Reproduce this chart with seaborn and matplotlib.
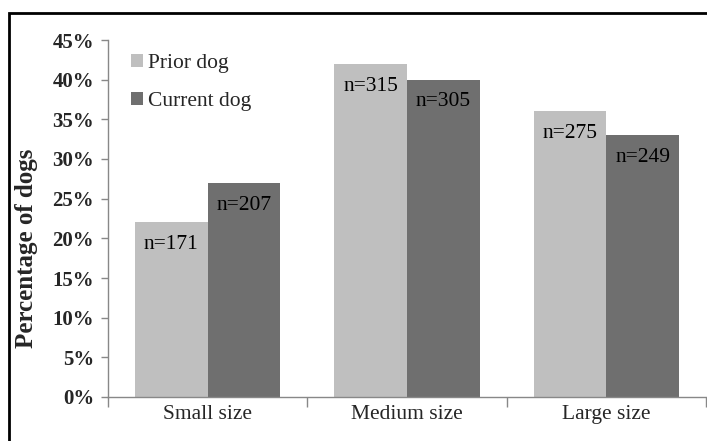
import numpy as np
import pandas as pd
import matplotlib
matplotlib.use("Agg")
import matplotlib.pyplot as plt
import seaborn as sns
from matplotlib.patches import Rectangle

#data
sizes=["Small size","Medium size","Large size"]
groups=["Prior dog","Current dog"]
prior_pct=[22,42,36]
current_pct=[27,40,33]
prior_n=[171,315,275]
current_n=[207,305,249]
yticks=[0,5,10,15,20,25,30,35,40,45]

df=pd.DataFrame({
    "size":sizes*2,
    "group":[groups[0]]*3+[groups[1]]*3,
    "pct":prior_pct+current_pct,
    "n":prior_n+current_n,
})

sns.set_style("white")
plt.rcParams['font.family']=['Liberation Serif','DejaVu Serif']

fig=plt.figure(figsize=(7.07,4.41),dpi=100)
ax=fig.add_axes([108/707,1-397/441,598/707,357/441])

sns.barplot(data=df,x="size",y="pct",hue="group",order=sizes,hue_order=groups,
            palette=["#bfbfbf","#6f6f6f"],width=0.73,gap=0,ax=ax,
            edgecolor="none",linewidth=0,saturation=1)

#n labels inside the top of each bar
for cont,ns in zip(ax.containers,[prior_n,current_n]):
    for bar,n in zip(cont,ns):
        ax.text(bar.get_x()+bar.get_width()/2,bar.get_height()-2.8,f"n={n}",
                ha="center",va="center",fontsize=15.5,color="black")

ax.set_ylim(0,45)
ax.set_xlim(-0.5,2.5)
ax.set_yticks(yticks)
ax.set_yticklabels([f"{t}%" for t in yticks],fontsize=15,fontweight="bold")
ax.set_xticks([0,1,2])
ax.set_xticklabels(sizes,fontsize=15.5)
ax.tick_params(axis="x",length=0,pad=6)
ax.tick_params(axis="y",length=5,width=1,color="#888888",direction="out",pad=5,left=True)
#category boundary ticks on x axis
ax.set_xticks([-0.5,0.5,1.5,2.5],minor=True)
ax.tick_params(axis="x",which="minor",length=7,width=1,color="#888888",bottom=True)
ax.set_xlabel("")
ax.set_ylabel("")
sns.despine(ax=ax)
for s in ["left","bottom"]:
    ax.spines[s].set_color("#888888")
    ax.spines[s].set_linewidth(1)

fig.text(27/707,1-248/441,"Percentage of dogs",rotation=90,ha="center",va="center",
         fontsize=18,fontweight="bold")

leg=ax.legend(loc="upper left",bbox_to_anchor=(0.038,0.96),frameon=False,fontsize=15.5,
              handlelength=0.55,handleheight=0.55,handletextpad=0.25,labelspacing=0.85,
              borderpad=0,borderaxespad=0)

#outer frame around the figure
fig.patches.append(Rectangle((9/707,-0.1),1.2,1-13/441+0.1,transform=fig.transFigure,
                             fill=False,edgecolor="black",linewidth=2,zorder=10))

fig.savefig("out.png",dpi=100)
